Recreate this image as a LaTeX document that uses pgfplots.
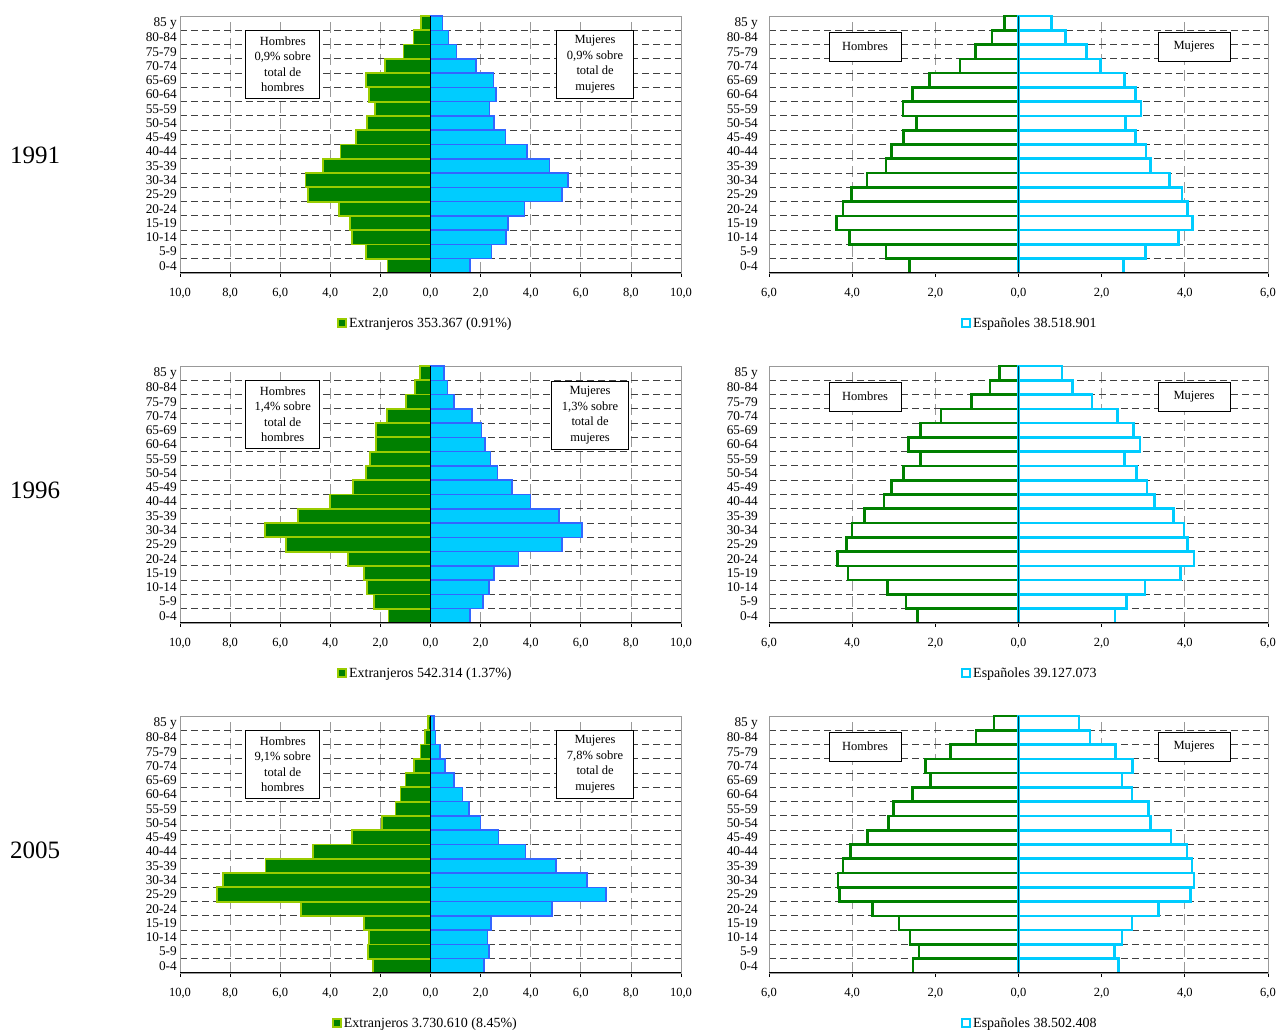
\documentclass[border=0pt]{standalone}
\usepackage{fontspec}
\setmainfont{Liberation Serif}
\usepackage{pgfplots}
\usepackage{pgfplotstable}
\pgfplotsset{compat=1.18}

\definecolor{hverde}{RGB}{0,128,0}
\definecolor{hborde}{RGB}{153,204,0}
\definecolor{mcian}{RGB}{0,204,255}
\definecolor{mborde}{RGB}{51,102,255}

% c: 0 = 0-4 ... 17 = 85 y ; h = hombres (negativo), m = mujeres
\pgfplotstableread{
c h m
0 -1.72 1.58
1 -2.57 2.44
2 -3.14 3.01
3 -3.22 3.09
4 -3.65 3.76
5 -4.88 5.25
6 -4.99 5.48
7 -4.29 4.75
8 -3.59 3.86
9 -2.98 2.99
10 -2.54 2.54
11 -2.21 2.35
12 -2.47 2.61
13 -2.57 2.51
14 -1.81 1.82
15 -1.08 1.04
16 -0.68 0.71
17 -0.37 0.48
}\extA
\pgfplotstableread{
c h m
0 -1.68 1.58
1 -2.25 2.10
2 -2.54 2.34
3 -2.65 2.54
4 -3.28 3.52
5 -5.78 5.25
6 -6.60 6.05
7 -5.29 5.13
8 -4.01 3.99
9 -3.08 3.25
10 -2.58 2.68
11 -2.42 2.40
12 -2.18 2.18
13 -2.18 2.04
14 -1.75 1.65
15 -0.97 0.93
16 -0.61 0.68
17 -0.43 0.54
}\extB
\pgfplotstableread{
c h m
0 -2.30 2.14
1 -2.49 2.34
2 -2.45 2.27
3 -2.65 2.42
4 -5.16 4.85
5 -8.53 7.01
6 -8.27 6.25
7 -6.59 5.01
8 -4.68 3.79
9 -3.12 2.72
10 -1.95 2.00
11 -1.40 1.54
12 -1.20 1.27
13 -1.00 0.93
14 -0.65 0.58
15 -0.40 0.37
16 -0.21 0.20
17 -0.11 0.13
}\extC
\pgfplotstableread{
c h m
0 -2.62 2.52
1 -3.19 3.05
2 -4.06 3.85
3 -4.38 4.19
4 -4.22 4.07
5 -4.01 3.93
6 -3.64 3.63
7 -3.19 3.18
8 -3.05 3.07
9 -2.77 2.82
10 -2.45 2.57
11 -2.78 2.95
12 -2.55 2.82
13 -2.14 2.55
14 -1.41 1.97
15 -1.04 1.63
16 -0.64 1.13
17 -0.34 0.79
}\espA
\pgfplotstableread{
c h m
0 -2.43 2.32
1 -2.71 2.59
2 -3.15 3.04
3 -4.10 3.90
4 -4.36 4.22
5 -4.13 4.06
6 -4.00 3.98
7 -3.70 3.73
8 -3.23 3.27
9 -3.05 3.09
10 -2.77 2.84
11 -2.36 2.55
12 -2.65 2.92
13 -2.36 2.76
14 -1.86 2.38
15 -1.13 1.77
16 -0.69 1.30
17 -0.46 1.05
}\espB
\pgfplotstableread{
c h m
0 -2.54 2.41
1 -2.39 2.31
2 -2.61 2.49
3 -2.87 2.73
4 -3.51 3.36
5 -4.31 4.13
6 -4.34 4.22
7 -4.22 4.17
8 -4.04 4.05
9 -3.63 3.67
10 -3.13 3.18
11 -3.00 3.12
12 -2.55 2.73
13 -2.12 2.49
14 -2.23 2.74
15 -1.64 2.33
16 -1.02 1.72
17 -0.59 1.45
}\espC

\tikzset{
  caja/.style={draw=black, fill=white, line width=0.6pt, align=center,
    font=\fontsize{12.5}{15.5}\selectfont, inner sep=0pt},
}

\pgfplotsset{
  pyr/.style={
    scale only axis,
    height=257pt,
    anchor=south west,
    ymin=-0.5, ymax=17.5,
    ytick={0,...,17},
    yticklabels={0-4,5-9,10-14,15-19,20-24,25-29,30-34,35-39,40-44,45-49,50-54,55-59,60-64,65-69,70-74,75-79,80-84,85 y},
    minor ytick={0.5,1.5,...,16.5},
    ymajorgrids=false, yminorgrids=true, xmajorgrids=true,
    minor grid style={black!75, line width=0.9pt, dash pattern=on 7pt off 4pt},
    major grid style={black!40, line width=0.7pt, dash pattern=on 11pt off 5pt},
    axis line style={black!40, line width=0.7pt},
    xtick pos=left, tick align=outside,
    major tick length=4pt, minor tick length=0pt,
    ytick style={draw=none},
    x tick style={black, line width=0.8pt},
    xticklabel style={font=\fontsize{12.5}{14}\selectfont, yshift=-8pt},
    yticklabel style={font=\fontsize{13.3}{14}\selectfont},
    legend style={draw=none, fill=none, anchor=center,
      font=\fontsize{14}{16}\selectfont, inner sep=0pt},
    legend image code/.code={\draw[#1, line width=1.8pt] (0pt,-4pt) rectangle (8pt,4pt);},
  },
  izq/.style={
    pyr, width=501pt,
    xmin=-10, xmax=10,
    xtick={-10,-8,...,10},
    xticklabels={{10,0},{8,0},{6,0},{4,0},{2,0},{0,0},{2,0},{4,0},{6,0},{8,0},{10,0}},
    yticklabel style={inner xsep=0pt, xshift=1pt},
    legend style={at={(0.49,-0.195)}},
  },
  der/.style={
    pyr, width=499pt,
    xmin=-6, xmax=6,
    xtick={-6,-4,...,6},
    xticklabels={{6,0},{4,0},{2,0},{0,0},{2,0},{4,0},{6,0}},
    yticklabel style={inner xsep=2pt, xshift=-5pt},
    legend style={at={(0.523,-0.195)}},
  },
  hext/.style={xbar, bar width=1, bar shift=0pt, fill=hverde, draw=hborde, line width=1.8pt},
  mext/.style={xbar, bar width=1, bar shift=0pt, fill=mcian, draw=mborde, line width=1.5pt},
  hesp/.style={xbar, bar width=1, bar shift=0pt, fill=white, draw=hverde, line width=2.6pt},
  mesp/.style={xbar, bar width=1, bar shift=0pt, fill=white, draw=mcian, line width=2.6pt},
}

\begin{document}
\begin{tikzpicture}
\path[use as bounding box] (0pt,0pt) rectangle (1278pt,1034pt);

\node[font=\fontsize{25}{30}\selectfont] at (35pt,879pt) {1991};
\node[font=\fontsize{25}{30}\selectfont] at (35pt,544pt) {1996};
\node[font=\fontsize{25}{30}\selectfont] at (35pt,184pt) {2005};

% ---- 1991 extranjeros
\begin{axis}[izq, at={(180pt,761pt)}]
\addplot[hext] table[x=h, y=c] {\extA};
\addlegendentry{Extranjeros 353.367 (0.91\%)}
\addplot[mext, forget plot] table[x=m, y=c] {\extA};
\draw[black, line width=1.2pt] (axis cs:0,-0.5) -- (axis cs:0,17.5);
\draw[black, line width=1pt] (rel axis cs:0,0) -- (rel axis cs:1,0);
\node[caja, minimum width=74pt, minimum height=68pt] at (axis cs:-5.9,14.13) {Hombres\\0,9\% sobre\\total de\\hombres};
\node[caja, minimum width=77pt, minimum height=68pt] at (axis cs:6.57,14.13) {Mujeres\\0,9\% sobre\\total de\\mujeres};
\end{axis}

% ---- 1991 espanoles
\begin{axis}[der, at={(769pt,761pt)}]
\addplot[hesp, forget plot] table[x=h, y=c] {\espA};
\addplot[mesp] table[x=m, y=c] {\espA};
\addlegendentry{Españoles 38.518.901}
\draw[teal!50!black, line width=1.4pt] (axis cs:0,-0.5) -- (axis cs:0,17.5);
\draw[black, line width=1pt] (rel axis cs:0,0) -- (rel axis cs:1,0);
\node[caja, minimum width=72pt, minimum height=29pt] at (axis cs:-3.69,15.37) {Hombres};
\node[caja, minimum width=72pt, minimum height=29pt] at (axis cs:4.22,15.37) {Mujeres};
\end{axis}

% ---- 1996 extranjeros
\begin{axis}[izq, at={(180pt,411pt)}]
\addplot[hext] table[x=h, y=c] {\extB};
\addlegendentry{Extranjeros 542.314 (1.37\%)}
\addplot[mext, forget plot] table[x=m, y=c] {\extB};
\draw[black, line width=1.2pt] (axis cs:0,-0.5) -- (axis cs:0,17.5);
\draw[black, line width=1pt] (rel axis cs:0,0) -- (rel axis cs:1,0);
\node[caja, minimum width=74pt, minimum height=68pt] at (axis cs:-5.9,14.13) {Hombres\\1,4\% sobre\\total de\\hombres};
\node[caja, minimum width=77pt, minimum height=68pt] at (axis cs:6.37,14.05) {Mujeres\\1,3\% sobre\\total de\\mujeres};
\end{axis}

% ---- 1996 espanoles
\begin{axis}[der, at={(769pt,411pt)}]
\addplot[hesp, forget plot] table[x=h, y=c] {\espB};
\addplot[mesp] table[x=m, y=c] {\espB};
\addlegendentry{Españoles 39.127.073}
\draw[teal!50!black, line width=1.4pt] (axis cs:0,-0.5) -- (axis cs:0,17.5);
\draw[black, line width=1pt] (rel axis cs:0,0) -- (rel axis cs:1,0);
\node[caja, minimum width=72pt, minimum height=29pt] at (axis cs:-3.69,15.37) {Hombres};
\node[caja, minimum width=72pt, minimum height=29pt] at (axis cs:4.22,15.37) {Mujeres};
\end{axis}

% ---- 2005 extranjeros
\begin{axis}[izq, at={(180pt,61pt)}]
\addplot[hext] table[x=h, y=c] {\extC};
\addlegendentry{Extranjeros 3.730.610 (8.45\%)}
\addplot[mext, forget plot] table[x=m, y=c] {\extC};
\draw[black, line width=1.2pt] (axis cs:0,-0.5) -- (axis cs:0,17.5);
\draw[black, line width=1pt] (rel axis cs:0,0) -- (rel axis cs:1,0);
\node[caja, minimum width=74pt, minimum height=68pt] at (axis cs:-5.9,14.13) {Hombres\\9,1\% sobre\\total de\\hombres};
\node[caja, minimum width=77pt, minimum height=68pt] at (axis cs:6.57,14.13) {Mujeres\\7,8\% sobre\\total de\\mujeres};
\end{axis}

% ---- 2005 espanoles
\begin{axis}[der, at={(769pt,61pt)}]
\addplot[hesp, forget plot] table[x=h, y=c] {\espC};
\addplot[mesp] table[x=m, y=c] {\espC};
\addlegendentry{Españoles 38.502.408}
\draw[teal!50!black, line width=1.4pt] (axis cs:0,-0.5) -- (axis cs:0,17.5);
\draw[black, line width=1pt] (rel axis cs:0,0) -- (rel axis cs:1,0);
\node[caja, minimum width=72pt, minimum height=29pt] at (axis cs:-3.69,15.37) {Hombres};
\node[caja, minimum width=72pt, minimum height=29pt] at (axis cs:4.22,15.37) {Mujeres};
\end{axis}
\end{tikzpicture}
\end{document}
